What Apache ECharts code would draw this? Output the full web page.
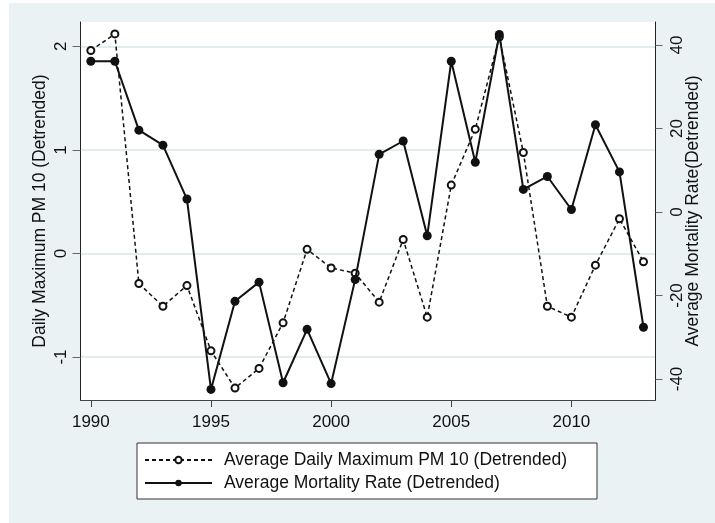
<!DOCTYPE html>
<html>
<head>
<meta charset="utf-8">
<script src="https://cdn.jsdelivr.net/npm/echarts@6/dist/echarts.min.js"></script>
<style>
html,body{margin:0;padding:0;background:#fff;}
#c{width:715px;height:523px;}
</style>
</head>
<body>
<div id="c"></div>
<script>
const years = [1990,1991,1992,1993,1994,1995,1996,1997,1998,1999,2000,2001,2002,2003,2004,2005,2006,2007,2008,2009,2010,2011,2012,2013];
const pm10 = [1.96,2.12,-0.29,-0.51,-0.31,-0.94,-1.30,-1.11,-0.67,0.04,-0.14,-0.19,-0.47,0.135,-0.615,0.66,1.20,2.09,0.975,-0.51,-0.615,-0.113,0.335,-0.08];
const mortality = [36.1,36.1,19.6,16.0,3.1,-42.5,-21.4,-16.8,-40.9,-28.1,-41.1,-16.2,13.8,17.0,-5.7,36.1,11.9,42.5,5.4,8.5,0.6,20.9,9.6,-27.6];
const xTicks = [1990,1995,2000,2005,2010];
const leftTicks = [-1,0,1,2];
const rightTicks = [-40,-20,0,20,40];
const seriesNames = ['Average Daily Maximum PM 10 (Detrended)','Average Mortality Rate (Detrended)'];
const leftTitle = 'Daily Maximum PM 10 (Detrended)';
const rightTitle = 'Average Mortality Rate(Detrended)';

const FONT = '"Liberation Sans", Arial, sans-serif';
const chart = echarts.init(document.getElementById('c'), null, {renderer:'canvas'});
const option = {
  backgroundColor: '#ffffff',
  animation: false,
  graphic: [{
    type: 'rect', z: -10, silent: true,
    shape: {x: 9, y: 3, width: 706, height: 520},
    style: {fill: '#eaf2f3'}
  }],
  grid: {left: 80.5, right: 59.5, top: 22, bottom: 123, show: true, backgroundColor: '#ffffff', borderWidth: 0,
    containLabel: false, outerBoundsMode: 'none'},
  xAxis: {
    type: 'value', min: 1989.57, max: 2013.5,
    axisLine: {show: true, onZero: false, lineStyle: {color: '#444', width: 1}},
    axisTick: {show: true, length: 7, lineStyle: {color: '#444'}, customValues: xTicks},
    axisLabel: {margin: 14, fontSize: 17, color: '#111', fontFamily: FONT, customValues: xTicks,
      formatter: v => String(v)},
    splitLine: {show: false}
  },
  yAxis: [{
    type: 'value', position: 'left', min: -1.415, max: 2.235,
    name: leftTitle, nameLocation: 'middle', nameGap: 31.5, nameRotate: 90, nameMoveOverlap: false,
    nameTextStyle: {fontSize: 17.5, color: '#111', fontFamily: FONT},
    axisLine: {show: true, onZero: false, lineStyle: {color: '#222', width: 1}},
    axisTick: {show: true, length: 8, lineStyle: {color: '#666'}, customValues: leftTicks},
    axisLabel: {margin: 11, fontSize: 17, color: '#111', fontFamily: FONT, rotate: 90, customValues: leftTicks},
    splitLine: {show: true, lineStyle: {color: '#e2ebee', width: 2}}
  },{
    type: 'value', position: 'right', min: -45.03, max: 45.5,
    name: rightTitle, nameLocation: 'middle', nameGap: 29, nameRotate: 90, nameMoveOverlap: false,
    nameTextStyle: {fontSize: 17.5, color: '#111', fontFamily: FONT},
    axisLine: {show: true, onZero: false, lineStyle: {color: '#222', width: 1}},
    axisTick: {show: true, length: 7, lineStyle: {color: '#666'}, customValues: rightTicks},
    axisLabel: {margin: 13, fontSize: 17, color: '#111', fontFamily: FONT, rotate: 90, customValues: rightTicks},
    splitLine: {show: false}
  }],
  legend: {
    orient: 'vertical', left: 137, top: 443,
    padding: [8, 30, 7, 7], itemGap: 5, itemWidth: 67, itemHeight: 8,
    backgroundColor: '#ffffff', borderColor: '#333', borderWidth: 1, borderRadius: 0,
    textStyle: {fontSize: 17.5, color: '#111', fontFamily: FONT, lineHeight: 18, padding: [0,0,0,7]},
    data: seriesNames
  },
  series: [{
    name: seriesNames[0], type: 'line', yAxisIndex: 0,
    data: years.map((y,i) => [y, pm10[i]]),
    symbol: 'emptyCircle', symbolSize: 7,
    lineStyle: {color: '#111', width: 1.5, type: [4,3]},
    itemStyle: {color: '#111', borderWidth: 1.5},
    z: 3
  },{
    name: seriesNames[1], type: 'line', yAxisIndex: 1,
    data: years.map((y,i) => [y, mortality[i]]),
    symbol: 'circle', symbolSize: 9,
    lineStyle: {color: '#111', width: 2},
    itemStyle: {color: '#111'},
    z: 4
  }]
};
chart.setOption(option);
</script>
</body>
</html>
